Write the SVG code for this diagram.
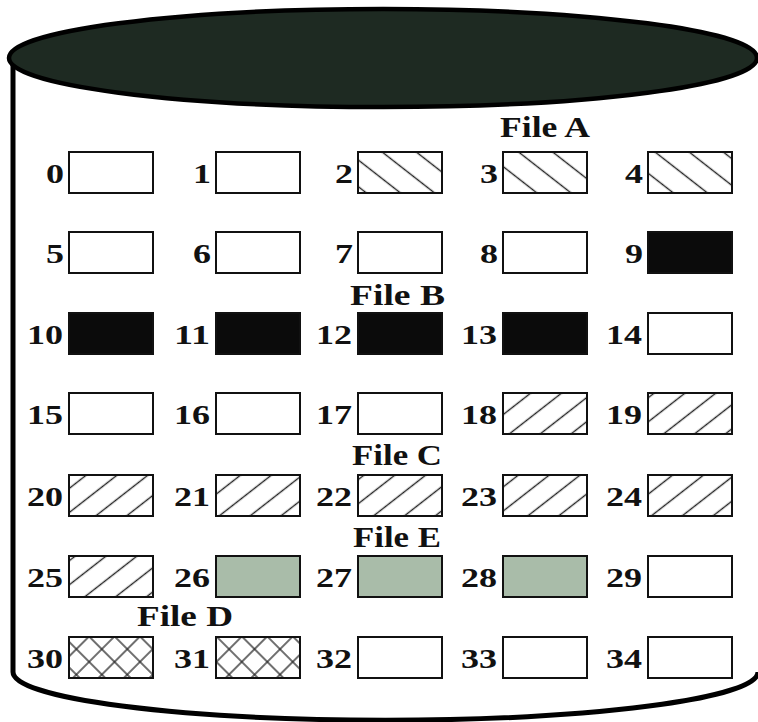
<svg xmlns="http://www.w3.org/2000/svg" width="758" height="722" viewBox="0 0 758 722">
<style>
.box{stroke:#111;stroke-width:2}
.empty{fill:#fff}
.black{fill:#0b0b0b}
.green{fill:#a9bca9}
.ha{fill:url(#hatchA)}
.hc{fill:url(#hatchC)}
.hd{fill:url(#hatchD)}
.num{font-family:"Liberation Serif","Times New Roman",serif;font-weight:bold;font-size:28px;fill:#111}
.lbl{font-family:"Liberation Serif","Times New Roman",serif;font-weight:bold;font-size:29px;fill:#111}
</style>
<defs>
<pattern id="hatchA" width="21" height="21" patternUnits="userSpaceOnUse" patternTransform="rotate(-52)">
<rect width="21" height="21" fill="#fff"/>
<line x1="10.5" y1="0" x2="10.5" y2="21" stroke="#222" stroke-width="1.4"/>
</pattern>
<pattern id="hatchC" width="19" height="19" patternUnits="userSpaceOnUse" patternTransform="rotate(52)">
<rect width="19" height="19" fill="#fff"/>
<line x1="9.5" y1="0" x2="9.5" y2="19" stroke="#222" stroke-width="1.4"/>
</pattern>
<pattern id="hatchD" width="18" height="18" patternUnits="userSpaceOnUse" patternTransform="rotate(45)">
<rect width="18" height="18" fill="#fff"/>
<line x1="9" y1="0" x2="9" y2="18" stroke="#222" stroke-width="1.3"/>
<line x1="0" y1="9" x2="18" y2="9" stroke="#222" stroke-width="1.3"/>
</pattern>
</defs>
<rect width="758" height="722" fill="#fff"/>
<g id="cylinder">
<path d="M13,60 L13,672 A371,48 0 0 0 758,672" fill="none" stroke="#000" stroke-width="5"/>
<ellipse cx="383" cy="58" rx="374" ry="49" fill="#1e2a22" stroke="#000" stroke-width="4.5"/>
</g>
<g id="labels">
<text class="lbl" x="500" y="137" textLength="90" lengthAdjust="spacingAndGlyphs">File A</text>
<text class="lbl" x="350" y="305" textLength="95" lengthAdjust="spacingAndGlyphs">File B</text>
<text class="lbl" x="352" y="465" textLength="90" lengthAdjust="spacingAndGlyphs">File C</text>
<text class="lbl" x="353" y="547" textLength="88" lengthAdjust="spacingAndGlyphs">File E</text>
<text class="lbl" x="137" y="626" textLength="96" lengthAdjust="spacingAndGlyphs">File D</text>
</g>
<g id="block0"><rect class="box empty" x="69" y="152" width="84" height="41"/><text class="num" x="46" y="183" textLength="18" lengthAdjust="spacingAndGlyphs">0</text></g>
<g id="block1"><rect class="box empty" x="216" y="152" width="84" height="41"/><text class="num" x="193" y="183" textLength="18" lengthAdjust="spacingAndGlyphs">1</text></g>
<g id="block2"><rect class="box ha" x="358" y="152" width="84" height="41"/><text class="num" x="335" y="183" textLength="18" lengthAdjust="spacingAndGlyphs">2</text></g>
<g id="block3"><rect class="box ha" x="503" y="152" width="84" height="41"/><text class="num" x="480" y="183" textLength="18" lengthAdjust="spacingAndGlyphs">3</text></g>
<g id="block4"><rect class="box ha" x="648" y="152" width="84" height="41"/><text class="num" x="625" y="183" textLength="18" lengthAdjust="spacingAndGlyphs">4</text></g>

<g id="block5"><rect class="box empty" x="69" y="232" width="84" height="41"/><text class="num" x="46" y="263" textLength="18" lengthAdjust="spacingAndGlyphs">5</text></g>
<g id="block6"><rect class="box empty" x="216" y="232" width="84" height="41"/><text class="num" x="193" y="263" textLength="18" lengthAdjust="spacingAndGlyphs">6</text></g>
<g id="block7"><rect class="box empty" x="358" y="232" width="84" height="41"/><text class="num" x="335" y="263" textLength="18" lengthAdjust="spacingAndGlyphs">7</text></g>
<g id="block8"><rect class="box empty" x="503" y="232" width="84" height="41"/><text class="num" x="480" y="263" textLength="18" lengthAdjust="spacingAndGlyphs">8</text></g>
<g id="block9"><rect class="box black" x="648" y="232" width="84" height="41"/><text class="num" x="625" y="263" textLength="18" lengthAdjust="spacingAndGlyphs">9</text></g>

<g id="block10"><rect class="box black" x="69" y="313" width="84" height="41"/><text class="num" x="27" y="344" textLength="36" lengthAdjust="spacingAndGlyphs">10</text></g>
<g id="block11"><rect class="box black" x="216" y="313" width="84" height="41"/><text class="num" x="174" y="344" textLength="36" lengthAdjust="spacingAndGlyphs">11</text></g>
<g id="block12"><rect class="box black" x="358" y="313" width="84" height="41"/><text class="num" x="316" y="344" textLength="36" lengthAdjust="spacingAndGlyphs">12</text></g>
<g id="block13"><rect class="box black" x="503" y="313" width="84" height="41"/><text class="num" x="461" y="344" textLength="36" lengthAdjust="spacingAndGlyphs">13</text></g>
<g id="block14"><rect class="box empty" x="648" y="313" width="84" height="41"/><text class="num" x="606" y="344" textLength="36" lengthAdjust="spacingAndGlyphs">14</text></g>

<g id="block15"><rect class="box empty" x="69" y="393" width="84" height="41"/><text class="num" x="27" y="424" textLength="36" lengthAdjust="spacingAndGlyphs">15</text></g>
<g id="block16"><rect class="box empty" x="216" y="393" width="84" height="41"/><text class="num" x="174" y="424" textLength="36" lengthAdjust="spacingAndGlyphs">16</text></g>
<g id="block17"><rect class="box empty" x="358" y="393" width="84" height="41"/><text class="num" x="316" y="424" textLength="36" lengthAdjust="spacingAndGlyphs">17</text></g>
<g id="block18"><rect class="box hc" x="503" y="393" width="84" height="41"/><text class="num" x="461" y="424" textLength="36" lengthAdjust="spacingAndGlyphs">18</text></g>
<g id="block19"><rect class="box hc" x="648" y="393" width="84" height="41"/><text class="num" x="606" y="424" textLength="36" lengthAdjust="spacingAndGlyphs">19</text></g>

<g id="block20"><rect class="box hc" x="69" y="475" width="84" height="41"/><text class="num" x="27" y="506" textLength="36" lengthAdjust="spacingAndGlyphs">20</text></g>
<g id="block21"><rect class="box hc" x="216" y="475" width="84" height="41"/><text class="num" x="174" y="506" textLength="36" lengthAdjust="spacingAndGlyphs">21</text></g>
<g id="block22"><rect class="box hc" x="358" y="475" width="84" height="41"/><text class="num" x="316" y="506" textLength="36" lengthAdjust="spacingAndGlyphs">22</text></g>
<g id="block23"><rect class="box hc" x="503" y="475" width="84" height="41"/><text class="num" x="461" y="506" textLength="36" lengthAdjust="spacingAndGlyphs">23</text></g>
<g id="block24"><rect class="box hc" x="648" y="475" width="84" height="41"/><text class="num" x="606" y="506" textLength="36" lengthAdjust="spacingAndGlyphs">24</text></g>

<g id="block25"><rect class="box hc" x="69" y="556" width="84" height="41"/><text class="num" x="27" y="587" textLength="36" lengthAdjust="spacingAndGlyphs">25</text></g>
<g id="block26"><rect class="box green" x="216" y="556" width="84" height="41"/><text class="num" x="174" y="587" textLength="36" lengthAdjust="spacingAndGlyphs">26</text></g>
<g id="block27"><rect class="box green" x="358" y="556" width="84" height="41"/><text class="num" x="316" y="587" textLength="36" lengthAdjust="spacingAndGlyphs">27</text></g>
<g id="block28"><rect class="box green" x="503" y="556" width="84" height="41"/><text class="num" x="461" y="587" textLength="36" lengthAdjust="spacingAndGlyphs">28</text></g>
<g id="block29"><rect class="box empty" x="648" y="556" width="84" height="41"/><text class="num" x="606" y="587" textLength="36" lengthAdjust="spacingAndGlyphs">29</text></g>

<g id="block30"><rect class="box hd" x="69" y="637" width="84" height="41"/><text class="num" x="27" y="668" textLength="36" lengthAdjust="spacingAndGlyphs">30</text></g>
<g id="block31"><rect class="box hd" x="216" y="637" width="84" height="41"/><text class="num" x="174" y="668" textLength="36" lengthAdjust="spacingAndGlyphs">31</text></g>
<g id="block32"><rect class="box empty" x="358" y="637" width="84" height="41"/><text class="num" x="316" y="668" textLength="36" lengthAdjust="spacingAndGlyphs">32</text></g>
<g id="block33"><rect class="box empty" x="503" y="637" width="84" height="41"/><text class="num" x="461" y="668" textLength="36" lengthAdjust="spacingAndGlyphs">33</text></g>
<g id="block34"><rect class="box empty" x="648" y="637" width="84" height="41"/><text class="num" x="606" y="668" textLength="36" lengthAdjust="spacingAndGlyphs">34</text></g>
</svg>
